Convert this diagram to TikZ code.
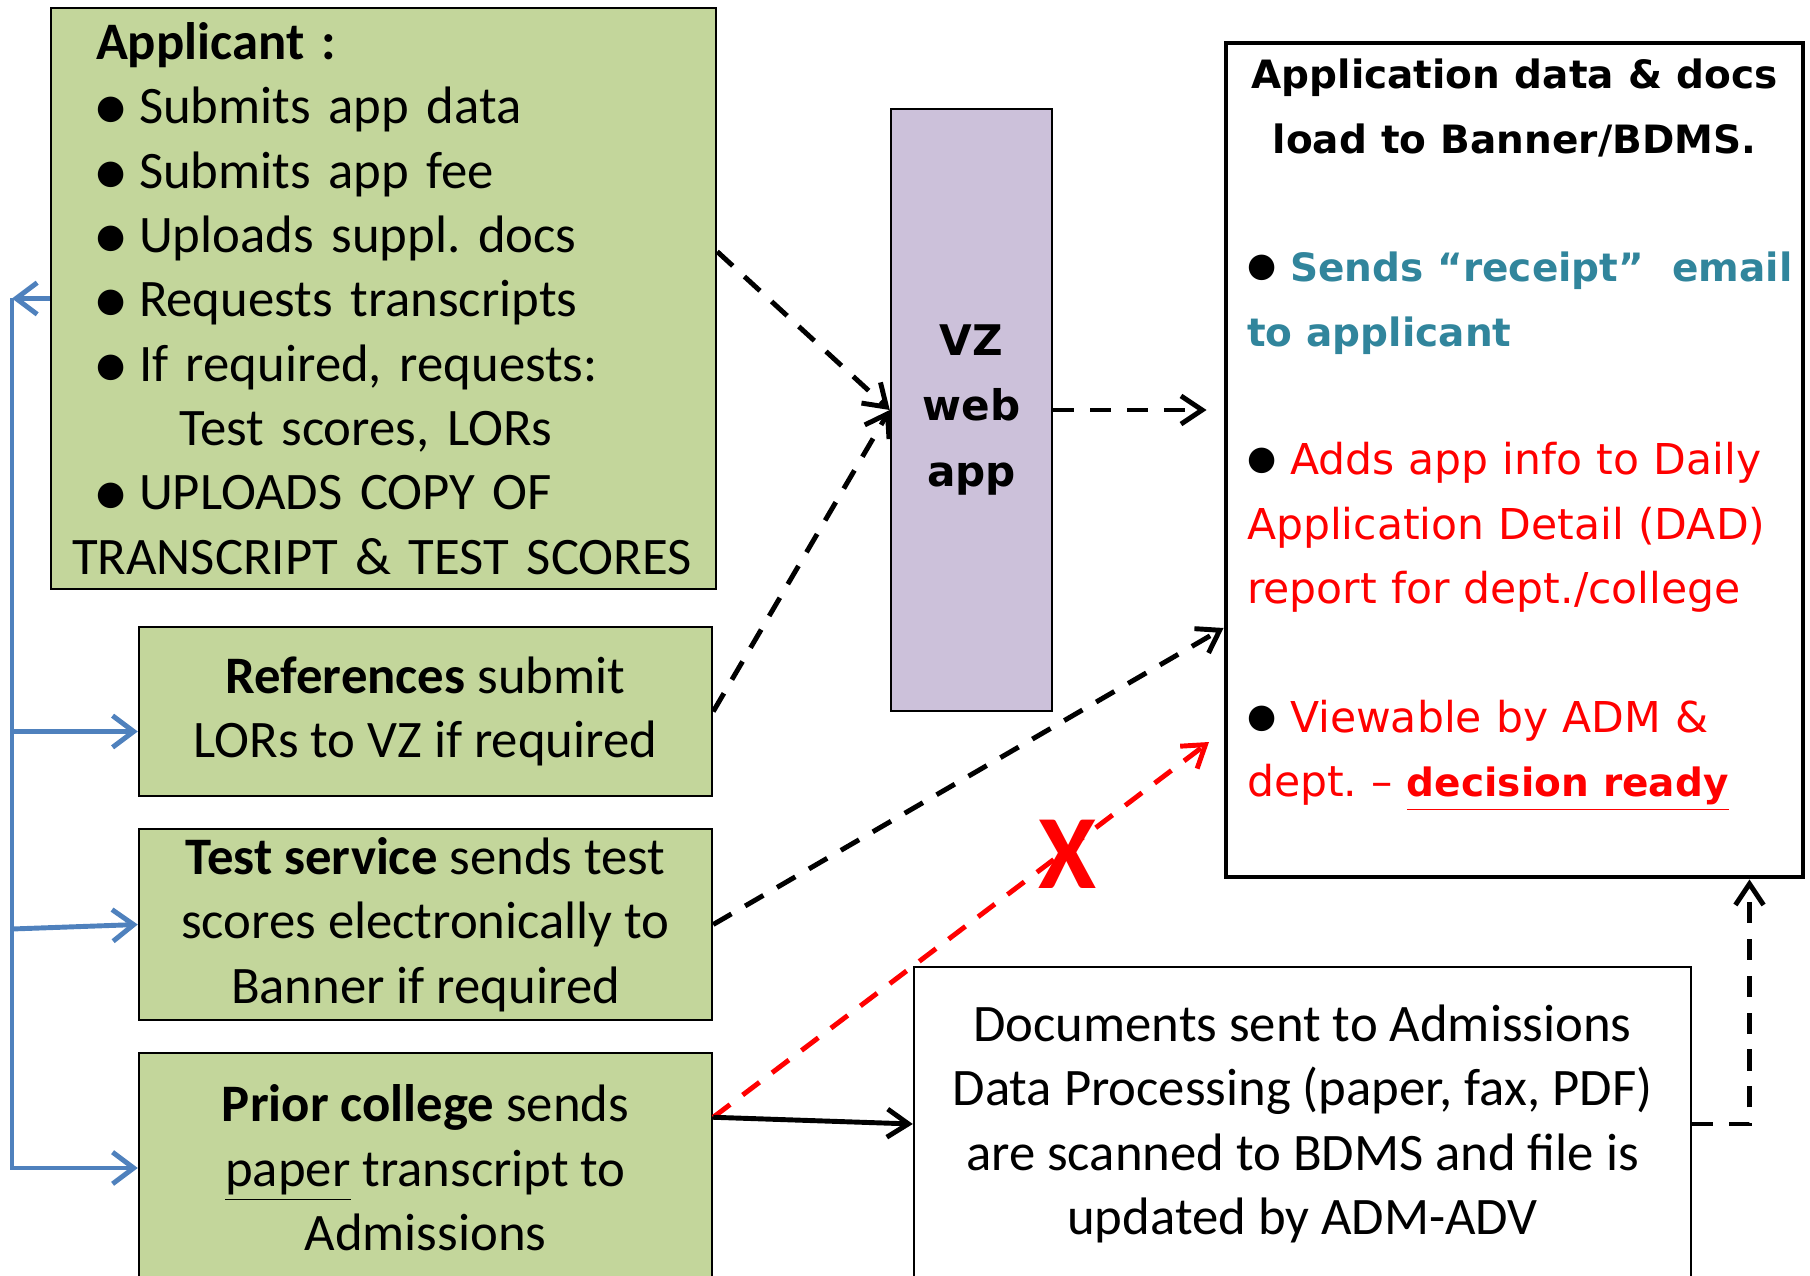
\documentclass[tikz,border=0pt]{standalone}
\usepackage{fontspec}
\setmainfont{Carlito}
\newfontfamily\dejavu{DejaVu Sans}
\usetikzlibrary{arrows.meta}
\definecolor{boxgreen}{HTML}{C3D69B}
\definecolor{vzpurple}{HTML}{CCC1DA}
\definecolor{linkblue}{HTML}{4F81BD}
\definecolor{mailteal}{HTML}{31859C}
\newcommand{\blt}{\raisebox{1.4pt}{\dejavu\fontsize{9.5}{9.5}\selectfont ●}}
\newcommand{\vbold}{\bfseries\fontsize{11.1}{18.3}\selectfont}
\frenchspacing

\begin{document}
\begin{tikzpicture}[
	greenbox/.style={draw, fill=boxgreen, line width=0.7pt, inner sep=0pt, align=center, minimum width=5.73cm, font=\fontsize{15}{18.3}\selectfont},
	dasharrow/.style={line width=1.4pt, dash pattern=on 6pt off 4.5pt, -{Straight Barb[length=6pt,width=8pt]}},
	bluearrow/.style={linkblue, line width=1.4pt, -{Straight Barb[length=6pt,width=9pt]}},
	]
	\useasboundingbox (0,0) rectangle (18.10,12.75);
	\node[greenbox, minimum width=6.65cm, minimum height=5.81cm, text width=6.23cm, inner xsep=0.21cm, align=left] (app) at (3.835, 9.765) {%
		\hspace*{0.24cm}\textbf{Applicant :}\\
		\hspace*{0.24cm}\makebox[0.43cm][l]{\blt}Submits app data\\
		\hspace*{0.24cm}\makebox[0.43cm][l]{\blt}Submits app fee\\
		\hspace*{0.24cm}\makebox[0.43cm][l]{\blt}Uploads suppl. docs\\
		\hspace*{0.24cm}\makebox[0.43cm][l]{\blt}Requests transcripts\\
		\hspace*{0.24cm}\makebox[0.43cm][l]{\blt}If required, requests:\\
		\hspace*{1.07cm}Test scores, LORs\\
		\hspace*{0.24cm}\makebox[0.43cm][l]{\blt}UPLOADS COPY OF\\
		\mbox{TRANSCRIPT \& TEST SCORES}};
	\node[greenbox, minimum height=1.69cm] (refs) at (4.255, 5.635) {\textbf{References} submit\\LORs to VZ if required};
	\node[greenbox, minimum height=1.91cm] (test) at (4.255, 3.505) {\textbf{Test service} sends test\\scores electronically to\\Banner if required};
	\node[greenbox, minimum height=2.30cm] (prior) at (4.255, 1.07) {\textbf{Prior college} sends\\\underline{paper} transcript to\\Admissions};
	\node[draw, fill=vzpurple, line width=0.7pt, minimum width=1.61cm, minimum height=6.02cm, align=center, font=\dejavu\bfseries\fontsize{12}{18.7}\selectfont] (vz) at (9.715, 8.65) {VZ\\web\\app};
	\node[draw, line width=1.4pt, minimum width=5.77cm, minimum height=8.34cm, text width=5.35cm, inner xsep=0.21cm, inner ysep=0pt, align=left, font=\dejavu\fontsize{12.1}{18.3}\selectfont] (bdms) at (15.145, 8.15) {%
		\makebox[5.35cm]{\vbold Application data \& docs}\\
		\makebox[5.35cm]{\vbold load to Banner/BDMS.}\\
		\mbox{}\\
		\mbox{\makebox[0.43cm][l]{\blt}{\color{mailteal}\vbold Sends “receipt”\ \ email}}\\
		\mbox{\color{mailteal}\vbold to applicant}\\
		\mbox{}\\
		\mbox{\makebox[0.43cm][l]{\blt}{\color{red}Adds app info to Daily}}\\
		\mbox{\color{red}Application Detail (DAD)}\\
		\mbox{\color{red}report for dept./college}\\
		\mbox{}\\
		\mbox{\makebox[0.43cm][l]{\blt}{\color{red}Viewable by ADM \&}}\\
		\mbox{\color{red}dept. – \underline{\vbold decision ready}}\\
		\mbox{}};
	\node[draw, line width=0.7pt, minimum width=7.77cm, minimum height=3.14cm, inner sep=0pt, align=center, font=\fontsize{15}{18.3}\selectfont] (docs) at (13.025, 1.51) {Documents sent to Admissions\\Data Processing (paper, fax, PDF)\\are scanned to BDMS and file is\\updated by ADM-ADV};
	\node[text=red, font=\bfseries\fontsize{30}{30}\selectfont] (xmark) at (10.68, 4.21) {X};
	\coordinate (corner) at (0.12, 9.765);
	\coordinate (redend) at (12.09, 5.33);
	% web app flow
	\draw[dasharrow] (app.8) -- (vz.west);
	\draw[dasharrow] (refs.east) -- (vz.west);
	\draw[dasharrow, shorten >=0.17cm] (vz.east) -- (vz.east -| bdms.west);
	\draw[dasharrow] (test.east) -- (bdms.210);
	\draw[dasharrow, red] (prior.10) -- (redend);
	\draw[line width=1.4pt, -{Straight Barb[length=6pt,width=8pt]}] (prior.10) -- (docs.west);
	\draw[dasharrow] (docs.east) -| ([xshift=-0.56cm]bdms.south east);
	% requests to the senders
	\draw[bluearrow] (app.west) -- (corner);
	\draw[bluearrow] (corner) |- (prior.west);
	\draw[bluearrow] ([yshift=-0.2cm]refs.west -| corner) -- ([yshift=-0.2cm]refs.west);
	\draw[bluearrow] (corner |- 0,3.46) -- (test.west);
\end{tikzpicture}
\end{document}
